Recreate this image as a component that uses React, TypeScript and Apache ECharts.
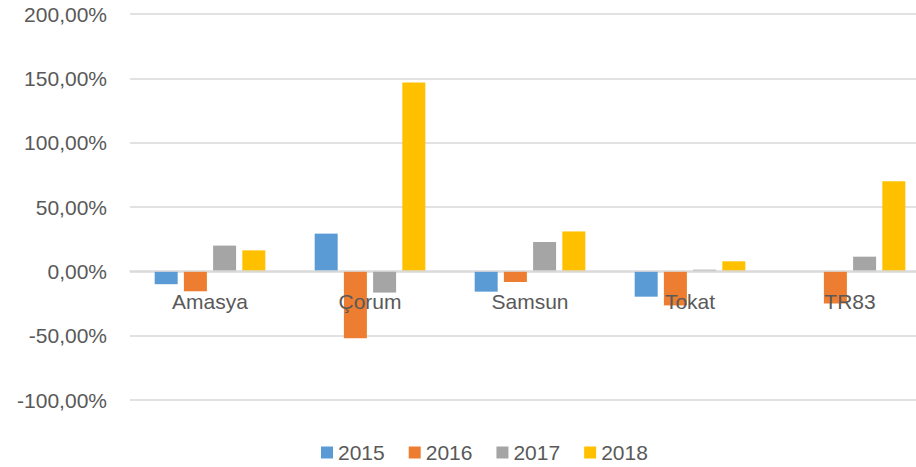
import React, { useEffect, useRef } from "react";
import * as echarts from "echarts";

const categories = ["Amasya", "Çorum", "Samsun", "Tokat", "TR83"];
const seriesNames = ["2015", "2016", "2017", "2018"];
const values2015 = [-10, 29.3, -15.8, -19.7, 0];
const values2016 = [-15.5, -52, -8.3, -26.5, -25];
const values2017 = [20, -16.5, 22.8, 1.3, 11.4];
const values2018 = [16.3, 146.7, 31, 7.8, 70.1];
const colors = ["#5B9BD5", "#ED7D31", "#A5A5A5", "#FFC000"];

const FONT = "'Liberation Sans', Arial, sans-serif";

export default function App() {
  const ref = useRef<HTMLDivElement>(null);
  useEffect(() => {
    if (!ref.current) return;
    const chart = echarts.init(ref.current, undefined, { renderer: "svg" });
    const all = [values2015, values2016, values2017, values2018];
    chart.setOption({
      animation: false,
      color: colors,
      textStyle: { fontFamily: FONT },
      grid: { left: 130, right: 0, top: 14, bottom: 67, containLabel: false },
      legend: {
        data: seriesNames,
        left: 316,
        top: 437,
        icon: "rect",
        itemWidth: 12,
        itemHeight: 12,
        itemGap: 24,
        textStyle: { color: "#595959", fontSize: 21, fontFamily: FONT },
      },
      xAxis: {
        type: "category",
        data: categories,
        z: 10,
        position: "bottom",
        offset: -129,
        axisLine: { onZero: false, lineStyle: { color: "#d9d9d9", width: 1.5 } },
        axisTick: { show: false },
        axisLabel: { color: "#595959", fontSize: 21, fontFamily: FONT, margin: 20 },
      },
      yAxis: {
        type: "value",
        min: -100,
        max: 200,
        interval: 50,
        axisLine: { show: false },
        axisTick: { show: false },
        splitLine: { lineStyle: { color: "#d9d9d9", width: 1.5 } },
        axisLabel: {
          color: "#595959",
          fontSize: 21,
          fontFamily: FONT,
          margin: 23,
          formatter: (v: number) => v.toFixed(2).replace(".", ",") + "%",
        },
      },
      series: seriesNames.map((name, i) => ({
        name,
        type: "bar",
        data: all[i],
        barWidth: 23,
        barGap: "27%",
        itemStyle: { color: colors[i] },
      })),
    });
    return () => chart.dispose();
  }, []);
  return (
    <div style={{ width: 916, height: 467, position: "absolute", left: 0, top: 0, overflow: "hidden" }}>
      <div ref={ref} style={{ width: 930, height: 467 }} />
    </div>
  );
}
